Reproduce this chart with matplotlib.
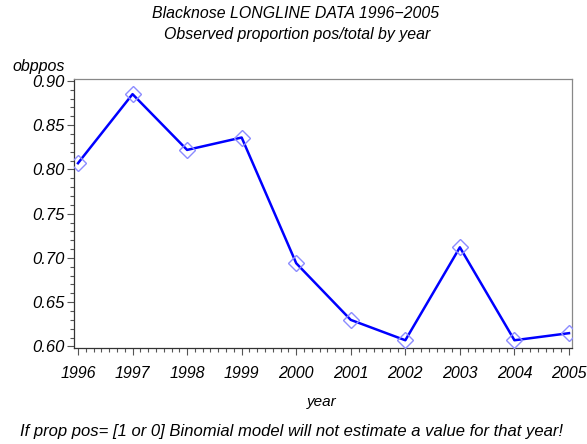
import matplotlib
matplotlib.use("Agg")
import matplotlib.pyplot as plt
from matplotlib.ticker import AutoMinorLocator

years = [1996, 1997, 1998, 1999, 2000, 2001, 2002, 2003, 2004, 2005]
obppos = [0.807, 0.885, 0.822, 0.836, 0.694, 0.630, 0.607, 0.712, 0.607, 0.615]
y_ticks = [0.60, 0.65, 0.70, 0.75, 0.80, 0.85, 0.90]

plt.rcParams['font.family'] = ['Liberation Sans', 'DejaVu Sans']
plt.rcParams['font.style'] = 'italic'

W, H = 587, 444
fig = plt.figure(figsize=(W / 100, H / 100), dpi=100)
ax = fig.add_axes([74 / W, 1 - 348 / H, (572 - 74) / W, (348 - 79) / H])

ax.plot(years, obppos, color='#0000ff', lw=1.8, zorder=2)
ax.plot(years, obppos, linestyle='none', marker='D', markersize=8,
        markerfacecolor='none', markeredgecolor='#8c8cff', markeredgewidth=1.0,
        zorder=3)

ax.set_xlim(1996 - 0.073, 2005 + 0.055)
ax.set_ylim(0.60 - 5 / 858 * 0.3, 0.90 + 6 / 858 * 0.3)
ax.set_xticks(years)
ax.set_xticklabels([str(y) for y in years])
ax.set_yticks(y_ticks)
ax.set_yticklabels([f"{v:.2f}" for v in y_ticks])
ax.xaxis.set_minor_locator(AutoMinorLocator(7))
ax.yaxis.set_minor_locator(AutoMinorLocator(5))

ax.tick_params(axis='both', which='major', length=5, width=0.8,
               color='#555555', direction='out')
ax.tick_params(axis='x', which='major', labelsize=11.5, pad=8)
ax.tick_params(axis='y', which='major', labelsize=12, pad=2)
ax.tick_params(axis='both', which='minor', length=3, width=0.8, color='#555555',
               direction='out')
ax.tick_params(axis='x', which='both', top=False)
ax.tick_params(axis='y', which='both', right=False)
for s in ax.spines.values():
    s.set_color('#888888')
    s.set_linewidth(0.9)
ax.spines['left'].set_color('#333333')
ax.spines['bottom'].set_color('#333333')

fig.text(296 / W, 1 - 13 / H, "Blacknose LONGLINE DATA 1996\u22122005",
         ha='center', va='center', fontsize=11.4)
fig.text(297 / W, 1 - 34 / H, "Observed proportion pos/total by year",
         ha='center', va='center', fontsize=11.4)
fig.text(39 / W, 1 - 67 / H, "obppos", ha='center', va='center', fontsize=11.5)
fig.text(322 / W, 1 - 402 / H, "year", ha='center', va='center', fontsize=11)
fig.text(292 / W, 1 - 431 / H,
         "If prop pos= [1 or 0] Binomial model will not estimate a value for that year!",
         ha='center', va='center', fontsize=12)

fig.savefig("out.png", dpi=100)
